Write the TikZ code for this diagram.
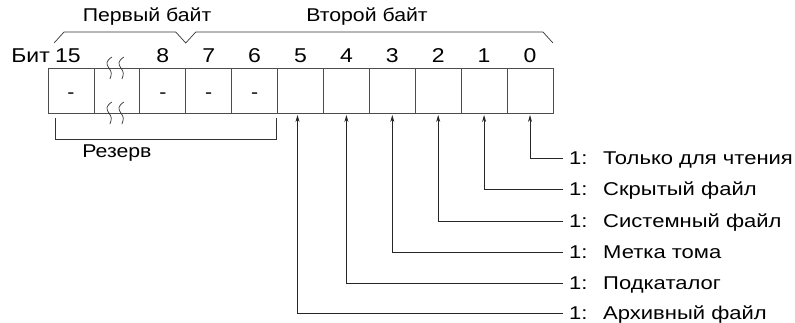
\documentclass[tikz,border=0pt]{standalone}
\usepackage{fontspec}
\setmainfont[FakeStretch=1.15]{Liberation Sans}
\newfontfamily\flagfont[FakeStretch=1.19]{Liberation Sans}
\usetikzlibrary{arrows.meta,positioning,calc}

\begin{document}
\begin{tikzpicture}[
    x=1pt, y=1pt,
    >={Stealth[length=7pt,width=4pt]},
    font=\fontsize{18.5}{22}\selectfont,
    bitcell/.style={draw=black!70, line width=0.8pt,
        minimum width=45.9pt, minimum height=45pt,
        inner sep=0pt, outer sep=0pt,
        text height=16pt, text depth=0pt},
    bitnum/.style={inner sep=0pt, text height=14.5pt, text depth=0pt,
        font=\fontsize{20}{24}\selectfont},
    flaglbl/.style={inner sep=0pt, anchor=west,
        text height=14pt, text depth=0.8pt,
        font=\flagfont\fontsize{18.5}{22}\selectfont},
    bytelbl/.style={inner sep=0pt},
    brace/.style={draw=black!80, line width=0.7pt},
    flagline/.style={->, draw=black!85, line width=0.7pt,
        shorten >=2pt, shorten <=6pt},
    squig/.style={draw=black!80, line width=0.7pt}
]

\useasboundingbox (0,0) rectangle (795,-323);

% register cells, bit 15 down to bit 0
\node[bitcell] (c15) at (71,-90.5) {-};
\node[bitcell, right=0pt of c15] (cbr) {};
\node[bitcell, right=0pt of cbr] (c8) {-};
\node[bitcell, right=0pt of c8] (c7) {-};
\node[bitcell, right=0pt of c7] (c6) {-};
\node[bitcell, right=0pt of c6] (c5) {};
\node[bitcell, right=0pt of c5] (c4) {};
\node[bitcell, right=0pt of c4] (c3) {};
\node[bitcell, right=0pt of c3] (c2) {};
\node[bitcell, right=0pt of c2] (c1) {};
\node[bitcell, right=0pt of c1] (c0) {};

% bit numbers
\node[bitnum, above=5pt of c15, xshift=-3pt] (n15) {15};
\node[bitnum, above=5pt of c8] (n8) {8};
\node[bitnum, above=5pt of c7] (n7) {7};
\node[bitnum, above=5pt of c6] (n6) {6};
\node[bitnum, above=5pt of c5] (n5) {5};
\node[bitnum, above=5pt of c4] (n4) {4};
\node[bitnum, above=5pt of c3] (n3) {3};
\node[bitnum, above=5pt of c2] (n2) {2};
\node[bitnum, above=5pt of c1] (n1) {1};
\node[bitnum, above=5pt of c0] (n0) {0};
\node[bitnum, left=5pt of n15] (nbit) {Бит};

% break marks
\foreach \e in {north,south}
  \foreach \dx in {-8,4}
    \draw[squig] ($(cbr.\e)+(\dx+3,11)$)
      .. controls +(-6,-4) and +(-3,4) .. ($(cbr.\e)+(\dx,0)$)
      .. controls +(3,-4) and +(2,5) .. ($(cbr.\e)+(\dx+1,-11)$);

% byte brackets
\draw[brace] ($(c15.north west)+(6,25)$) -- ++(10,11)
  -- ($(c8.north east)+(-10,36)$) -- ($(c8.north east)+(0,25)$)
  -- ++(10,11) -- ($(c0.north east)+(-10,36)$) -- ($(c0.north east)+(0,25)$);
\node[bytelbl] (b1) at (147,-17) {Первый байт};
\node[bytelbl] (b2) at (367,-17) {Второй байт};

% reserved bits
\draw[brace] ($(c15.south west)+(7,-5)$) -- ++(0,-21)
  -| ($(c6.south east)+(-1,-5)$);
\node[bytelbl] (rsv) at (117,-153) {Резерв};

% flags
\node[flaglbl] (f0) at (569,-158) {\makebox[34pt][l]{1:}Только для чтения};
\node[flaglbl] (f1) at (569,-189) {\makebox[34pt][l]{1:}Скрытый файл};
\node[flaglbl] (f2) at (569,-221) {\makebox[34pt][l]{1:}Системный файл};
\node[flaglbl] (f3) at (569,-252) {\makebox[34pt][l]{1:}Метка тома};
\node[flaglbl] (f4) at (569,-283) {\makebox[34pt][l]{1:}Подкаталог};
\node[flaglbl] (f5) at (569,-313) {\makebox[34pt][l]{1:}Архивный файл};

\draw[flagline] (f0.west) -| (c0.south);
\draw[flagline] (f1.west) -| (c1.south);
\draw[flagline] (f2.west) -| (c2.south);
\draw[flagline] (f3.west) -| (c3.south);
\draw[flagline] (f4.west) -| (c4.south);
\draw[flagline] (f5.west) -| ($(c5.south)+(-3,0)$);

\end{tikzpicture}
\end{document}
